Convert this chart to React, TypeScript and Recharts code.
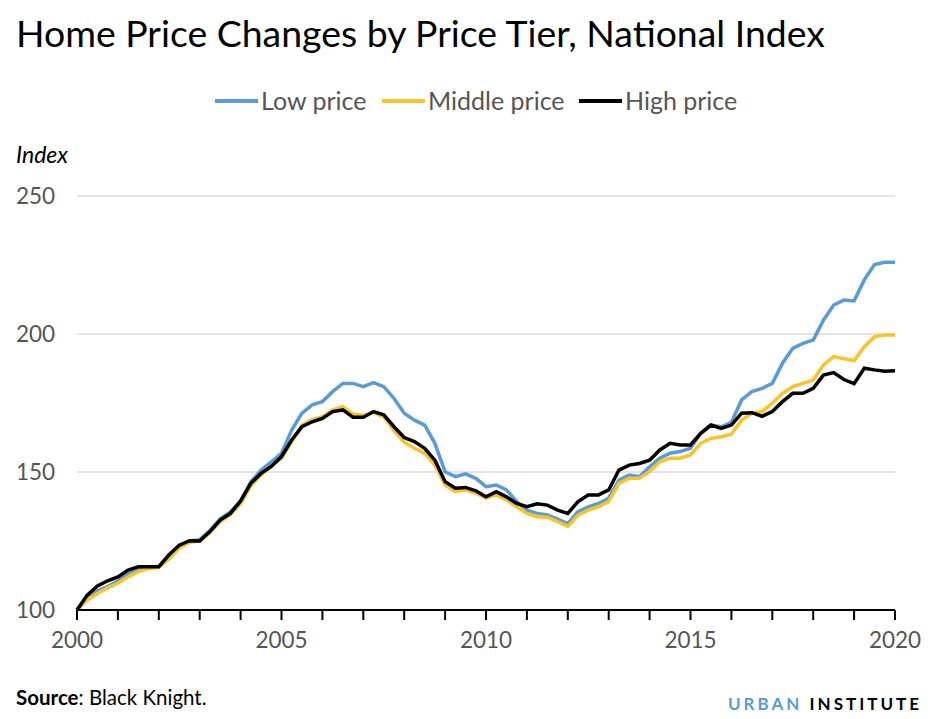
import { CartesianGrid, Line, LineChart, XAxis, YAxis } from "recharts";

// quarterly points, 2000 Q1 .. 2020 Q1
const quarters = [
  2000, 2000.25, 2000.5, 2000.75, 2001, 2001.25, 2001.5, 2001.75,
  2002, 2002.25, 2002.5, 2002.75, 2003, 2003.25, 2003.5, 2003.75,
  2004, 2004.25, 2004.5, 2004.75, 2005, 2005.25, 2005.5, 2005.75,
  2006, 2006.25, 2006.5, 2006.75, 2007, 2007.25, 2007.5, 2007.75,
  2008, 2008.25, 2008.5, 2008.75, 2009, 2009.25, 2009.5, 2009.75,
  2010, 2010.25, 2010.5, 2010.75, 2011, 2011.25, 2011.5, 2011.75,
  2012, 2012.25, 2012.5, 2012.75, 2013, 2013.25, 2013.5, 2013.75,
  2014, 2014.25, 2014.5, 2014.75, 2015, 2015.25, 2015.5, 2015.75,
  2016, 2016.25, 2016.5, 2016.75, 2017, 2017.25, 2017.5, 2017.75,
  2018, 2018.25, 2018.5, 2018.75, 2019, 2019.25, 2019.5, 2019.75,
  2020,
];

const lowPrice = [
  100, 104, 107, 108.5, 110.5, 113, 114.5, 115.5,
  115.7, 119.5, 123, 125, 125.5, 128.8, 133, 135.5,
  139.5, 146.5, 150.7, 153.7, 156.8, 165.2, 171.3, 174.3,
  175.5, 179.1, 182.1, 182.1, 180.9, 182.4, 180.9, 176.7,
  171.3, 168.8, 167, 160.4, 150.1, 148.3, 149.3, 147.7,
  144.7, 145.3, 143.5, 139.3, 136.2, 135, 134.4, 132.9,
  131.3, 135.6, 137.4, 138.6, 140.5, 147.1, 148.9, 148.3,
  151.9, 155, 156.8, 157.4, 158.6, 164, 167, 166.4,
  168, 176.1, 179.1, 180.3, 182.1, 189.4, 194.8, 196.6,
  197.8, 205, 210.5, 212.3, 212, 219.6, 225.2, 226,
  226,
];

const middlePrice = [
  100, 103.6, 106, 108, 109.7, 112, 113.9, 115,
  115.5, 118.5, 122.5, 124.5, 125, 128, 132, 134.5,
  138.5, 145, 149, 152, 155, 161, 167, 169,
  170, 172.5, 173.7, 171, 170.5, 171.5, 170, 165,
  160.8, 158.6, 156.8, 152.5, 145.3, 142.9, 143.5, 142.3,
  140.5, 141.7, 139.9, 137.4, 135, 133.8, 133.6, 132,
  130.3, 134.4, 136.2, 137.4, 139.3, 145.9, 147.7, 147.7,
  150.1, 153.7, 155, 155, 156.2, 160.4, 162.2, 162.8,
  163.7, 168.8, 171.3, 171.9, 174.9, 178.5, 180.9, 182.1,
  183.3, 188.8, 191.8, 191, 190.4, 195.4, 199, 199.6,
  199.6,
];

const highPrice = [
  100, 105.4, 108.7, 110.6, 112, 114.5, 115.7, 115.7,
  115.7, 120, 123.5, 125.1, 125, 128.4, 132.6, 135,
  139.5, 145.9, 149.5, 152, 155.6, 161.6, 166.4, 168.2,
  169.4, 171.9, 172.5, 169.8, 169.8, 171.9, 170.7, 166.4,
  162.5, 161, 158.6, 154.3, 146.5, 144.1, 144.4, 143.2,
  141, 142.9, 141, 138.6, 137.4, 138.5, 138, 136.2,
  135, 139.3, 141.7, 141.7, 143.5, 150.7, 152.5, 153.1,
  154.3, 158, 160.4, 159.8, 159.8, 164, 167, 165.8,
  167, 171.3, 171.5, 170.2, 171.9, 175.5, 178.5, 178.5,
  180.3, 185.1, 186, 183.5, 182, 187.6, 187, 186.5,
  186.7,
];

const yearTicks = [
  2000, 2001, 2002, 2003, 2004, 2005, 2006, 2007, 2008, 2009, 2010,
  2011, 2012, 2013, 2014, 2015, 2016, 2017, 2018, 2019, 2020,
];
const labelYears = [2000, 2005, 2010, 2015, 2020];
const indexTicks = [100, 150, 200, 250];

const series = [
  { key: "low", name: "Low price", color: "#5b9bd5" },
  { key: "middle", name: "Middle price", color: "#f7c32e" },
  { key: "high", name: "High price", color: "#000000" },
];

const data = quarters.map((t, i) => ({
  t,
  low: lowPrice[i],
  middle: middlePrice[i],
  high: highPrice[i],
}));

const FONT = "Lato, 'Open Sans', sans-serif";
const GREY = "#555555";

// legend layout: swatch start x for each item
const legendX = [215, 382, 579];

function YTick(props: any) {
  return (
    <text x={16} y={props.y} dy={8} fontSize={22.5} fill={GREY} fontFamily={FONT}>
      {props.payload.value}
    </text>
  );
}

function XTick(props: any) {
  if (!labelYears.includes(props.payload.value)) return <g />;
  return (
    <text x={props.x} y={props.y} dy={27} textAnchor="middle" fontSize={22.5} fill={GREY} fontFamily={FONT}>
      {props.payload.value}
    </text>
  );
}

export default function App() {
  return (
    <div style={{ position: "absolute", left: 0, top: 0, width: 938, height: 719, background: "#fff" }}>
      {/* titles, legend and footer sit underneath the chart layer */}
      <svg
        width={938}
        height={719}
        style={{ position: "absolute", left: 0, top: 0, zIndex: 0 }}
        fontFamily={FONT}
      >
        <text x={16} y={47} fontSize={37.4} fill="#000">
          Home Price Changes by Price Tier, National Index
        </text>
        {series.map((s, i) => (
          <g key={s.key}>
            <line x1={legendX[i]} x2={legendX[i] + 43} y1={101} y2={101} stroke={s.color} strokeWidth={4} />
            <text x={legendX[i] + 46} y={110} fontSize={25} fill={GREY}>
              {s.name}
            </text>
          </g>
        ))}
        <text x={16} y={163} fontSize={23} fontStyle="italic" fill="#000">
          Index
        </text>
        <text x={16} y={705} fontSize={20.5} fill="#000">
          <tspan fontWeight="bold">Source</tspan>: Black Knight.
        </text>
        <text x={922} y={710} fontSize={17} fontWeight="bold" letterSpacing={3} textAnchor="end">
          <tspan fill="#5b9bd5">URBAN</tspan>
          <tspan fill="#000"> INSTITUTE</tspan>
        </text>
      </svg>
      <div style={{ position: "absolute", left: 0, top: 0, zIndex: 1 }}>
        <LineChart
          width={938}
          height={719}
          data={data}
          margin={{ top: 196, right: 43, bottom: 69, left: 17 }}
        >
          <CartesianGrid vertical={false} stroke="#dcdcdc" strokeWidth={1.5} />
          <XAxis
            dataKey="t"
            type="number"
            domain={[2000, 2020]}
            ticks={yearTicks}
            interval={0}
            height={40}
            tick={<XTick />}
            tickSize={10}
            tickMargin={1}
            axisLine={{ stroke: "#000", strokeWidth: 2 }}
            tickLine={{ stroke: "#000000", strokeWidth: 2, strokeOpacity: 1 }}
          />
          <YAxis
            domain={[100, 250]}
            ticks={indexTicks}
            width={60}
            axisLine={false}
            tickLine={false}
            tick={<YTick />}
          />
          {series.map((s) => (
            <Line
              key={s.key}
              dataKey={s.key}
              name={s.name}
              stroke={s.color}
              strokeWidth={3.5}
              dot={false}
              type="linear"
              isAnimationActive={false}
            />
          ))}
        </LineChart>
      </div>
    </div>
  );
}
